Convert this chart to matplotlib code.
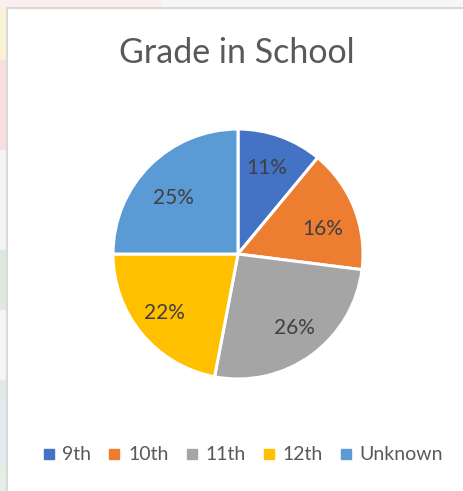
import matplotlib.pyplot as plt
from matplotlib.patches import Rectangle
from matplotlib.lines import Line2D

# data
grades = ["9th", "10th", "11th", "12th", "Unknown"]
shares = [11, 16, 26, 22, 25]
colors = ["#4472c4", "#ed7d31", "#a5a5a5", "#ffc000", "#5b9bd5"]

W, H = 463, 491
fig = plt.figure(figsize=(W / 100, H / 100), dpi=100)
fig.patch.set_facecolor("#f6f6f6")

# faint watermark colours behind the chart box (left/top strip)
strip = [(0, 60, "#fbf3d6"), (60, 150, "#f9dede"), (150, 250, "#f4f4f4"),
         (250, 310, "#dbe9df"), (310, 380, "#f5f5f5"), (380, 400, "#e0ece3"),
         (400, 465, "#e1ebf4"), (465, 491, "#e3eee5")]
for y0, y1, c in strip:
    fig.patches.append(Rectangle((0, 1 - y1 / H), 7 / W, (y1 - y0) / H,
                                 transform=fig.transFigure, color=c, zorder=0))
fig.patches.append(Rectangle((0, 1 - 8 / H), 160 / W, 8 / H,
                             transform=fig.transFigure, color="#fbeeee", zorder=0))

# chart box
fig.patches.append(Rectangle((7 / W, -0.01), 1.0, 1 - 8 / H + 0.01,
                             transform=fig.transFigure, facecolor="white",
                             edgecolor="#d9d9d9", linewidth=1.5, zorder=1))

fig.text(237 / W, 1 - 53 / H, "Grade in School", ha="center", va="center",
         fontsize=24.5, color="#595959", family="Lato")

r = 125
cx, cy = 238, 254
ax = fig.add_axes([(cx - r) / W, 1 - (cy + r) / H, 2 * r / W, 2 * r / H])
ax.set_zorder(2)
wedges, texts = ax.pie(shares, colors=colors, startangle=90, counterclock=False,
                       labels=[f"{s}%" for s in shares], labeldistance=0.73,
                       wedgeprops=dict(edgecolor="white", linewidth=2.2),
                       textprops=dict(fontsize=15, color="#404040", family="Lato",
                                      ha="center", va="center"))
# small nudges like Excel's best-fit label placement
nudges = [(-0.02, 0.0), (0.0, -0.07), (0.02, 0.0), (-0.03, -0.01), (0.0, -0.07)]
for t, (dx, dy) in zip(texts, nudges):
    x, y = t.get_position()
    t.set_position((x + dx, y + dy))
ax.set_xlim(-1, 1)
ax.set_ylim(-1, 1)
ax.set_aspect("equal")

handles = [Line2D([], [], marker="s", linestyle="none", markersize=7,
                  markerfacecolor=c, markeredgecolor=c) for c in colors]
leg = fig.legend(handles, grades, loc="center", bbox_to_anchor=(243 / W, 1 - 455 / H),
                 ncol=5, frameon=False, handlelength=0.6, handletextpad=0.4,
                 columnspacing=0.9, prop=dict(family="Lato", size=14))
for t in leg.get_texts():
    t.set_color("#595959")
leg.set_zorder(3)

fig.savefig("out.png", dpi=100, facecolor=fig.get_facecolor())
